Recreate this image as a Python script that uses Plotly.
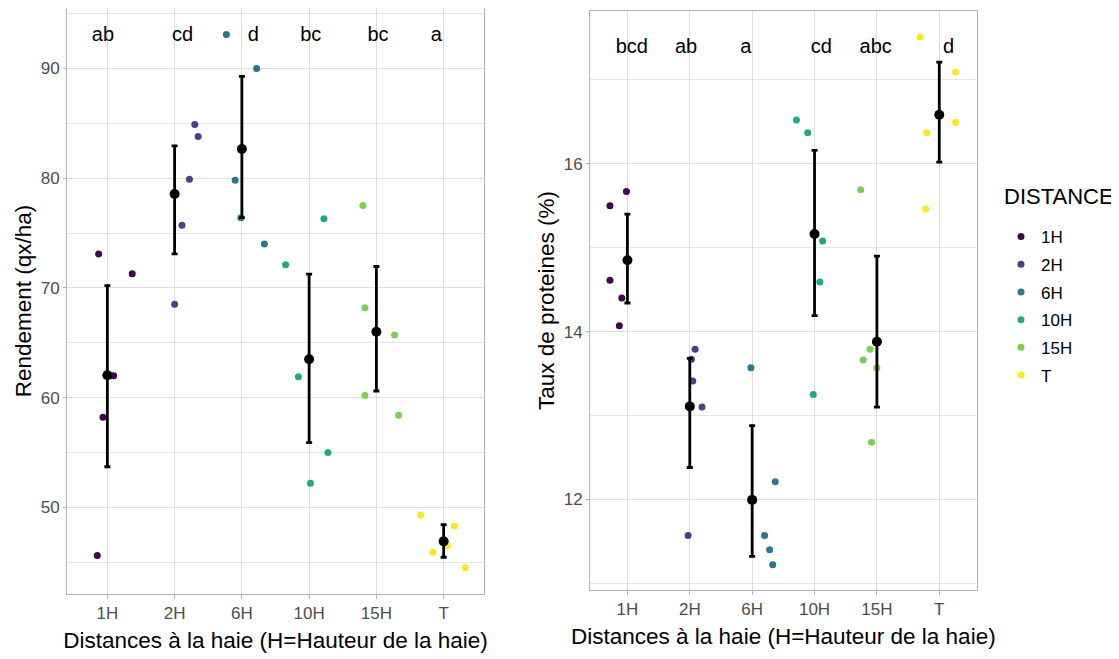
import plotly.graph_objects as go

categories = ["1H", "2H", "6H", "10H", "15H", "T"]
colors = ["#440154", "#414487", "#2A788E", "#22A884", "#7AD151", "#FDE725"]

# Rendement (qx/ha) per distance
rendement = [
    [73.1, 71.3, 62.0, 62.0, 58.2, 45.6],
    [84.9, 83.8, 79.9, 75.7, 68.5],
    [93.1, 90.0, 79.8, 76.4, 74.0],
    [72.1, 76.3, 61.9, 55.0, 52.2],
    [77.5, 68.2, 65.7, 60.2, 58.4],
    [49.3, 48.3, 45.9, 46.5, 44.5],
]
rend_jitter = [
    [-0.13, 0.37, 0.045, 0.093, -0.065, -0.15],
    [0.30, 0.35, 0.22, 0.11, 0.0],
    [-0.23, 0.22, -0.10, -0.015, 0.335],
    [-0.35, 0.22, -0.16, 0.28, 0.02],
    [-0.20, -0.17, 0.27, -0.17, 0.33],
    [-0.34, 0.16, -0.16, 0.055, 0.32],
]
rend_low = [53.7, 73.1, 76.4, 55.9, 60.6, 45.45]
rend_high = [70.2, 82.95, 89.27, 71.25, 71.95, 48.43]
rend_letters = ["ab", "cd", "d", "bc", "bc", "a"]
rend_letter_shift = [-0.065, 0.12, 0.17, 0.025, 0.025, -0.11]
rend_letter_y = 93.0

# Taux de proteines (%) per distance
proteines = [
    [15.67, 15.50, 14.61, 14.40, 14.07],
    [13.79, 13.67, 13.41, 13.10, 11.57],
    [13.57, 12.21, 11.57, 11.40, 11.22],
    [16.52, 16.37, 15.08, 14.59, 13.25],
    [15.69, 13.79, 13.66, 13.57, 12.68],
    [17.51, 17.09, 16.49, 16.37, 15.46],
]
prot_jitter = [
    [-0.016, -0.28, -0.28, -0.09, -0.13],
    [0.085, 0.026, 0.048, 0.196, -0.027],
    [-0.02, 0.37, 0.2, 0.28, 0.33],
    [-0.29, -0.11, 0.13, 0.085, -0.02],
    [-0.26, -0.11, -0.22, 0.0, -0.086],
    [-0.31, 0.26, 0.26, -0.2, -0.22],
]
prot_low = [14.34, 12.38, 11.32, 14.19, 13.10, 16.02]
prot_high = [15.40, 13.68, 12.88, 16.16, 14.90, 17.21]
prot_letters = ["bcd", "ab", "a", "cd", "abc", "d"]
prot_letter_shift = [0.07, -0.06, -0.1, 0.11, -0.02, 0.15]
prot_letter_y = 17.38

FONT = "Liberation Sans, Arial, sans-serif"
positions = list(range(1, len(categories) + 1))

# page body has an 8px margin: figure is sized to fill the rest of the window
W, H = 1111, 651

fig = go.Figure()


def add_panel(values, jitter, low, high, letters, shift, letter_y, xa, ya, legend):
    for i, cat in enumerate(categories):
        fig.add_trace(go.Scatter(
            x=[positions[i] + j for j in jitter[i]], y=values[i],
            mode="markers", name=cat, legendgroup=cat, showlegend=legend,
            marker=dict(color=colors[i], size=7),
            xaxis=xa, yaxis=ya, hoverinfo="skip"))
    means = [sum(v) / len(v) for v in values]
    fig.add_trace(go.Scatter(
        x=positions, y=means, mode="markers", showlegend=False,
        marker=dict(color="black", size=10),
        error_y=dict(type="data", symmetric=False,
                     array=[h - m for h, m in zip(high, means)],
                     arrayminus=[m - l for l, m in zip(low, means)],
                     color="black", thickness=2.8, width=3),
        xaxis=xa, yaxis=ya))
    fig.add_trace(go.Scatter(
        x=[p + s for p, s in zip(positions, shift)], y=[letter_y] * len(letters),
        mode="text", text=letters, showlegend=False,
        textfont=dict(family=FONT, size=20, color="black"),
        xaxis=xa, yaxis=ya))


add_panel(rendement, rend_jitter, rend_low, rend_high, rend_letters,
          rend_letter_shift, rend_letter_y, "x", "y", True)
add_panel(proteines, prot_jitter, prot_low, prot_high, prot_letters,
          prot_letter_shift, prot_letter_y, "x2", "y2", False)

grid = "#DEDEDE"
border = "#B3B3B3"
tickfont = dict(family=FONT, size=17, color="#4D4D4D")
titlefont = dict(family=FONT, size=22.5, color="black")

xcommon = dict(tickmode="array", tickvals=positions, ticktext=categories,
               range=[0.4, 6.6], showgrid=True, gridcolor=grid, gridwidth=1,
               zeroline=False, showline=True, mirror=True, linecolor=border,
               linewidth=1, ticks="outside", ticklen=4, tickcolor=border,
               tickfont=tickfont, automargin=False,
               title=dict(text="Distances à la haie (H=Hauteur de la haie)",
                          font=titlefont, standoff=9))
ycommon = dict(showgrid=True, gridcolor=grid, gridwidth=1, zeroline=False,
               showline=True, mirror=True, linecolor=border, linewidth=1,
               ticks="outside", ticklen=3, tickcolor=border, tickfont=tickfont,
               automargin=False)

fig.update_layout(
    width=W, height=H,
    margin=dict(l=0, r=0, t=0, b=0),
    paper_bgcolor="white", plot_bgcolor="white",
    font=dict(family=FONT),
    xaxis=dict(domain=[59 / W, 476 / W], anchor="y", **xcommon),
    yaxis=dict(domain=[1 - 586 / H, 1.0], anchor="x", range=[42.1, 95.51],
               tickvals=[50, 60, 70, 80, 90],
               minor=dict(dtick=10, tick0=45, showgrid=True, gridcolor="#E6E6E6",
                          ticks=""),
               title=dict(text="Rendement (qx/ha)", font=titlefont, standoff=2),
               **ycommon),
    xaxis2=dict(domain=[582 / W, 968.7 / W], anchor="y2", **xcommon),
    yaxis2=dict(domain=[1 - 582 / H, 1 - 3 / H], anchor="x2", range=[10.92, 17.82],
                tickvals=[12, 14, 16],
                minor=dict(dtick=2, tick0=11, showgrid=True, gridcolor="#E6E6E6",
                           ticks=""),
                title=dict(text="Taux de proteines (%)", font=titlefont, standoff=2),
                **ycommon),
    legend=dict(x=(1001 - 8) / W, y=1 - (226 - 15) / H, xanchor="left", yanchor="top",
                font=dict(family=FONT, size=17, color="black"),
                tracegroupgap=2.6, bgcolor="rgba(0,0,0,0)"),
    annotations=[dict(text="DISTANCE", xref="paper", yref="paper",
                      x=(1002 - 8) / W, y=1 - (197 - 8) / H,
                      xanchor="left", yanchor="middle", showarrow=False,
                      font=dict(family=FONT, size=22, color="black"))],
    showlegend=True,
)

fig.write_html("out.html")
